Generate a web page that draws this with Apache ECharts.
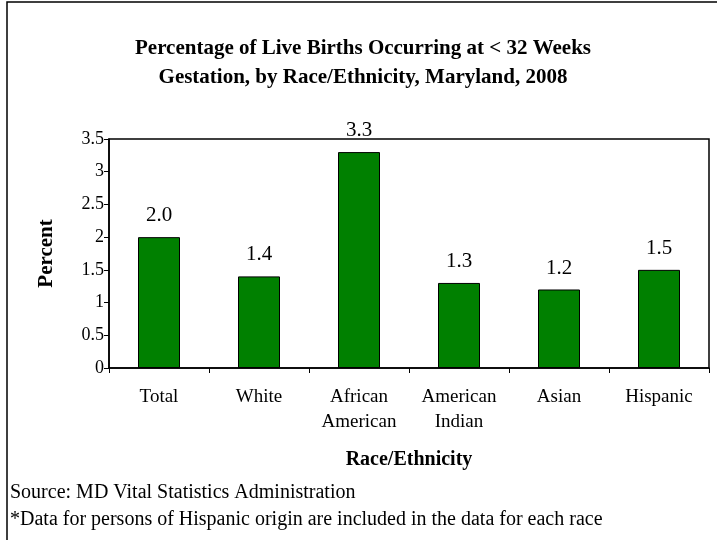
<!DOCTYPE html>
<html>
<head>
<meta charset="utf-8">
<script src="https://cdn.jsdelivr.net/npm/echarts@6/dist/echarts.min.js"></script>
<style>html,body{margin:0;padding:0;background:#fff}#c{width:717px;height:540px}</style>
</head>
<body>
<div id="c"></div>
<script>
const categories = ['Total', 'White', 'African\nAmerican', 'American\nIndian', 'Asian', 'Hispanic'];
const percentValues = [2.0, 1.4, 3.3, 1.3, 1.2, 1.5];
const yTicks = [0, 0.5, 1, 1.5, 2, 2.5, 3, 3.5];

const FONT = '"Liberation Serif", "Times New Roman", serif';
const chart = echarts.init(document.getElementById('c'), null, {renderer: 'canvas'});
chart.setOption({
  backgroundColor: '#fff',
  animation: false,
  title: {
    text: 'Percentage of Live Births Occurring at < 32 Weeks\nGestation, by Race/Ethnicity, Maryland, 2008',
    left: 358, top: 29, textAlign: 'center',
    textStyle: {fontFamily: FONT, fontWeight: 'bold', fontSize: 21, lineHeight: 29, color: '#000'}
  },
  grid: {left: 109, right: 8, top: 139, bottom: 172, show: true, borderColor: '#000', borderWidth: 1.5},
  xAxis: {
    type: 'category', data: categories,
    axisLine: {lineStyle: {color: '#000', width: 1.5}},
    axisTick: {show: true, alignWithLabel: false, length: 5, lineStyle: {color: '#000'}},
    axisLabel: {fontFamily: FONT, fontSize: 19, color: '#000', lineHeight: 25, margin: 17, interval: 0},
    name: 'Race/Ethnicity', nameLocation: 'middle', nameGap: 82,
    nameTextStyle: {fontFamily: FONT, fontWeight: 'bold', fontSize: 20, color: '#000'}
  },
  yAxis: {
    type: 'value', min: yTicks[0], max: yTicks[yTicks.length - 1], interval: 0.5,
    splitLine: {show: false},
    axisLine: {show: true, lineStyle: {color: '#000', width: 1.5}},
    axisTick: {show: true, length: 5, lineStyle: {color: '#000'}},
    axisLabel: {fontFamily: FONT, fontSize: 18, color: '#000', margin: 5},
    name: 'Percent', nameLocation: 'middle', nameGap: 52, nameRotate: 90,
    nameTextStyle: {fontFamily: FONT, fontWeight: 'bold', fontSize: 21, color: '#000'}
  },
  series: [{
    type: 'bar', data: percentValues, barWidth: 42,
    itemStyle: {color: '#008000', borderColor: '#000', borderWidth: 1},
    label: {show: true, position: 'top', distance: 11, fontFamily: FONT, fontSize: 21, color: '#000',
      formatter: p => p.value.toFixed(1)}
  }],
  graphic: [
    {type: 'rect', shape: {x: 7, y: 2, width: 760, height: 600}, style: {fill: 'none', stroke: '#000', lineWidth: 1.5}, silent: true},
    {type: 'text', left: 10, top: 483, style: {text: 'Source: MD Vital Statistics Administration', font: '20px ' + FONT, fill: '#000'}},
    {type: 'text', left: 10, top: 510, style: {text: '*Data for persons of Hispanic origin are included in the data for each race', font: '20px ' + FONT, fill: '#000'}}
  ]
});
</script>
</body>
</html>
